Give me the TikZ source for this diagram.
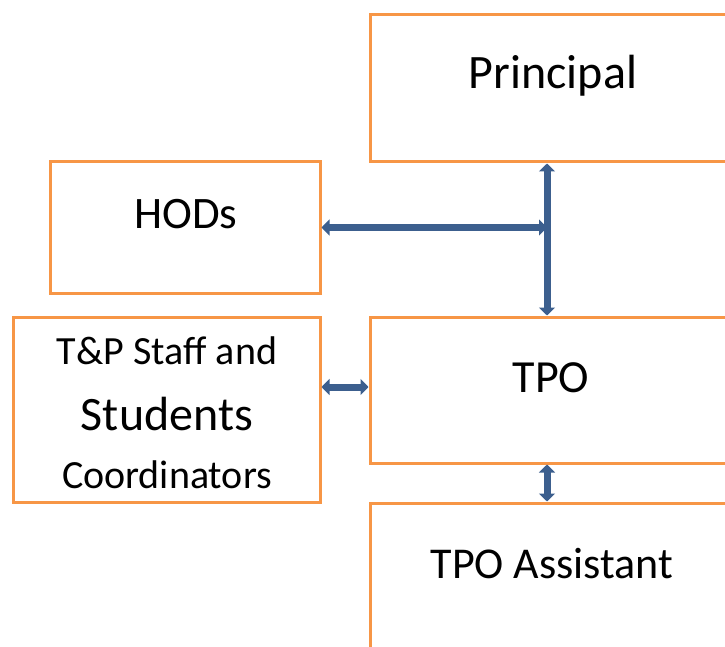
\documentclass[tikz,border=0pt]{standalone}
\usepackage{fontspec}
\setmainfont{Carlito}
\usetikzlibrary{arrows.meta}

\definecolor{boxorange}{HTML}{F79646}
\definecolor{linkblue}{HTML}{3C5F8E}

\tikzstyle{orgbox} = [draw=boxorange, line width=3pt, fill=white,
    rectangle, inner sep=0pt]
\tikzstyle{boxtext} = [anchor=base, inner sep=0pt, text=black]
\tikzstyle{link} = [draw=linkblue, line width=7pt,
    {Triangle[length=8pt,width=16pt]}-{Triangle[length=8pt,width=16pt]}]

\newcommand{\fs}[1]{\fontsize{#1}{#1}\selectfont}

\begin{document}
\begin{tikzpicture}[x=1pt,y=-1pt]
\useasboundingbox (0,0) rectangle (725,647);

\node [orgbox, minimum width=370pt, minimum height=147pt] (principal) at (555,88.5) {};
\node [orgbox, minimum width=270pt, minimum height=131pt] (hods) at (185,227.5) {};
\node [orgbox, minimum width=307pt, minimum height=185pt] (staff) at (166.5,409.5) {};
\node [orgbox, minimum width=370pt, minimum height=146pt] (tpo) at (555,390) {};
\node [orgbox, minimum width=370pt, minimum height=197pt] (assistant) at (555,601.5) {};

\node [boxtext] (principaltxt) at (553,89) {\fs{48}Principal};
\node [boxtext] (hodstxt) at (186,228) {\fs{45}HODs};
\node [boxtext] (stafftxt) at (167,364) {\fs{40}T\&P Staff and};
\node [boxtext] (studentstxt) at (167,430) {\fs{48}Students};
\node [boxtext] (coordtxt) at (167,488) {\fs{40}Coordinators};
\node [boxtext] (tpotxt) at (551,392) {\fs{46}TPO};
\node [boxtext] (assistanttxt) at (552,578) {\fs{44}TPO Assistant};

\coordinate (spine) at (547,0);
\coordinate (hodsjoin) at (hods.east -| spine);

\draw [link] (principal.south -| spine) -- (tpo.north -| spine);
\draw [link] (hods.east) -- (hodsjoin);
\draw [link] (staff.east |- 0,387) -- (tpo.west |- 0,387);
\draw [link] (tpo.south -| spine) -- (assistant.north -| spine);
\end{tikzpicture}
\end{document}
